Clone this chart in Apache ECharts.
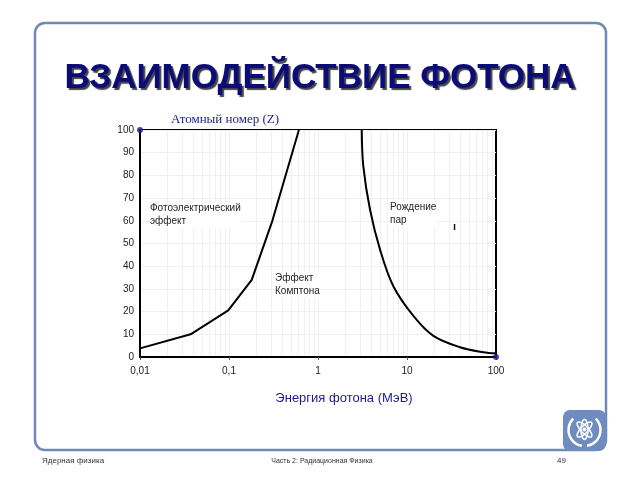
<!DOCTYPE html>
<html><head><meta charset="utf-8">
<script src="https://cdn.jsdelivr.net/npm/echarts@6/dist/echarts.min.js"></script>
<style>html,body{margin:0;padding:0;background:#fff}#c{width:640px;height:480px}</style>
</head><body><div id="c"></div>
<script>
// Photoelectric / Compton boundary (energy MeV, Z)
const photoEnergy = [0.01, 0.037, 0.098, 0.18, 0.307, 0.61];
const photoZ      = [3.8, 10, 20.5, 34, 60, 100];
// Compton / pair production boundary
const pairEnergy = [3.1, 3.23, 3.84, 4.97, 7.0, 11.8, 19.8, 39.4, 72, 100];
const pairZ      = [100, 84, 65, 47.4, 31.3, 18.1, 9.3, 4.3, 2.1, 1.6];
// corner markers
const markerEnergy = [0.01, 100];
const markerZ = [100, 0];
// minor log grid positions
const minorGrid = [0.02,0.03,0.04,0.05,0.06,0.07,0.08,0.09,0.2,0.3,0.4,0.5,0.6,0.7,0.8,0.9,2,3,4,5,6,7,8,9,20,30,40,50,60,70,80,90,0.1,1,10];
const yTicks = {min:0, max:100, interval:10};

const zip = (a,b)=>a.map((v,i)=>[v,b[i]]);
const chart = echarts.init(document.getElementById('c'), null, {renderer:'canvas'});
const navy = '#1c1c8a';
const logoBlue = '#6f8cc0';
chart.setOption({
  backgroundColor:'#fff',
  animation:false,
  grid:{left:140, right:144, top:130, bottom:123, show:true, borderColor:'#000', borderWidth:2},
  xAxis:{type:'log', logBase:10, min:0.01, max:100, z:20,
    axisLine:{show:true, lineStyle:{color:'#000', width:2}},
    axisTick:{show:true, length:3, lineStyle:{color:'#555'}},
    splitLine:{show:false},
    axisLabel:{color:'#222', fontSize:10, fontFamily:'Liberation Sans', margin:9,
      formatter:v=>String(+v.toPrecision(3)).replace('.',',')}},
  yAxis:{type:'value', min:yTicks.min, max:yTicks.max, interval:yTicks.interval,
    axisLine:{show:true, lineStyle:{color:'#000', width:2}},
    axisTick:{show:false},
    splitLine:{show:true, lineStyle:{color:'#f0f0f0', width:1}},
    axisLabel:{color:'#222', fontSize:10, fontFamily:'Liberation Sans', margin:6}},
  series:[
    {type:'line', data:[], silent:true, z:0,
      markLine:{silent:true, symbol:'none', label:{show:false}, z:0,
        lineStyle:{color:'#f0f0f0', width:1, type:'solid'},
        data: minorGrid.map(v=>({xAxis:v}))}},
    {type:'line', data:zip(photoEnergy, photoZ), showSymbol:false, symbol:'none', z:5,
      lineStyle:{color:'#000', width:2}, clip:true},
    {type:'line', data:zip(pairEnergy, pairZ), smooth:0.35, showSymbol:false, symbol:'none', z:5,
      lineStyle:{color:'#000', width:2}, clip:true},
    {type:'scatter', data:zip(markerEnergy, markerZ), symbolSize:6, clip:false, z:30,
      itemStyle:{color:navy}}
  ],
  graphic:[
    {type:'rect', shape:{x:35, y:23, width:571, height:427, r:10}, silent:true, z:-10,
      style:{fill:'none', stroke:'#7088b8', lineWidth:2.5}},
    {type:'text', left:'center', top:61, z:50,
      style:{text:'ВЗАИМОДЕЙСТВИЕ ФОТОНА', font:'bold 35px "Liberation Sans", Arial, sans-serif',
        fill:'#0c0c78', textShadowColor:'#444', textShadowOffsetX:2, textShadowOffsetY:2, textShadowBlur:1}},
    {type:'text', x:225, y:120, z:50, style:{text:'Атомный номер (Z)', font:'13px "Liberation Serif", serif', fill:navy, align:'center', verticalAlign:'middle'}},
    {type:'text', x:344, y:398, z:50, style:{text:'Энергия фотона (МэВ)', font:'13px "Liberation Sans", sans-serif', fill:navy, align:'center', verticalAlign:'middle'}},
    {type:'text', x:150, y:202, z:50, style:{text:'Фотоэлектрический\nэффект', font:'10px "Liberation Sans", sans-serif', fill:'#222', lineHeight:13, backgroundColor:'#fff'}},
    {type:'text', x:275, y:272, z:50, style:{text:'Эффект\nКомптона', font:'10px "Liberation Sans", sans-serif', fill:'#222', lineHeight:13, backgroundColor:'#fff'}},
    {type:'text', x:390, y:201, z:50, style:{text:'Рождение\nпар', font:'10px "Liberation Sans", sans-serif', fill:'#222', lineHeight:13, backgroundColor:'#fff'}},
    {type:'text', x:453, y:221, z:50, style:{text:'ı', font:'bold 11px "Liberation Sans", sans-serif', fill:'#111'}},
    {type:'text', x:42, y:461, style:{text:'Ядерная физика', font:'8px "Liberation Sans", sans-serif', fill:'#333', verticalAlign:'middle'}},
    {type:'text', x:322, y:461, style:{text:'Часть 2: Радиационная Физика', font:'7px "Liberation Sans", sans-serif', fill:'#333', align:'center', verticalAlign:'middle'}},
    {type:'text', x:557, y:461, style:{text:'49', font:'8px "Liberation Sans", sans-serif', fill:'#333', verticalAlign:'middle'}},
    {type:'group', x:563, y:410, z:60, children:[
      {type:'rect', shape:{x:0, y:0, width:43, height:41, r:7}, style:{fill:logoBlue}},
      {type:'ellipse', shape:{cx:21.5, cy:19.5, rx:10, ry:3.5}, rotation:0.8, originX:21.5, originY:19.5, style:{fill:'none', stroke:'#fff', lineWidth:1.5}},
      {type:'ellipse', shape:{cx:21.5, cy:19.5, rx:10, ry:3.5}, rotation:-0.8, originX:21.5, originY:19.5, style:{fill:'none', stroke:'#fff', lineWidth:1.5}},
      {type:'ellipse', shape:{cx:21.5, cy:19.5, rx:3.5, ry:10}, style:{fill:'none', stroke:'#fff', lineWidth:1.5}},
      {type:'circle', shape:{cx:21.5, cy:19.5, r:2}, style:{fill:'#fff'}},
      {type:'arc', shape:{cx:21.5, cy:20, r:16, startAngle:Math.PI*0.55, endAngle:Math.PI*1.25}, style:{fill:'none', stroke:'#fff', lineWidth:2.5}},
      {type:'arc', shape:{cx:21.5, cy:20, r:16, startAngle:-Math.PI*0.25, endAngle:Math.PI*0.45}, style:{fill:'none', stroke:'#fff', lineWidth:2.5}}
    ]}
  ]
});
</script></body></html>
